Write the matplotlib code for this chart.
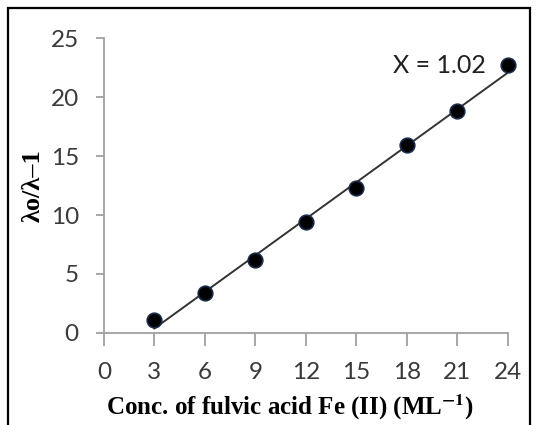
import numpy as np
import matplotlib
matplotlib.use("Agg")
import matplotlib.pyplot as plt
from matplotlib.patches import Rectangle

conc = [3, 6, 9, 12, 15, 18, 21, 24]
ratio = [1.1, 3.4, 6.2, 9.4, 12.3, 15.9, 18.8, 22.7]
xticks = [0, 3, 6, 9, 12, 15, 18, 21, 24]
yticks = [0, 5, 10, 15, 20, 25]

plt.rcParams['mathtext.fontset'] = 'stix'
fig = plt.figure(figsize=(5.38, 4.25), dpi=100)
ax = fig.add_axes([0.193, 0.2165, 0.751, 0.694])

slope, icpt = np.polyfit(conc, ratio, 1)
xf = np.array([conc[0], conc[-1]])
ax.plot(xf, slope * xf + icpt, color='#333333', lw=1.4, zorder=2)
ax.plot(conc, ratio, 'o', ms=10.5, mfc='black', mec='#1a2a4a', mew=1.2, zorder=3, clip_on=False)

ax.set_xlim(0, 24)
ax.set_ylim(0, 25)
ax.set_xticks(xticks)
ax.set_yticks(yticks)
for s in ['top', 'right']:
    ax.spines[s].set_visible(False)
for s in ['left', 'bottom']:
    ax.spines[s].set_color('#a0a0a0')
    ax.spines[s].set_linewidth(1.3)
ax.tick_params(axis='x', direction='out', length=9, width=1.3, color='#a0a0a0',
               labelsize=17.5, labelcolor='#3a3a3a', pad=12)
ax.tick_params(axis='y', direction='out', length=6, width=1.3, color='#a0a0a0',
               labelsize=17.5, labelcolor='#3a3a3a', pad=12)
for lab in ax.get_xticklabels() + ax.get_yticklabels():
    lab.set_fontfamily('Lato')

ax.text(22.7, 22.7, 'X = 1.02', fontsize=18, color='#202020', family='Lato',
        ha='right', va='center')

ax.set_ylabel('λo/λ–1', fontsize=19, fontweight='bold', family='Liberation Serif')
ax.yaxis.set_label_coords(-0.145, 0.5)
ax.set_xlabel(r'Conc. of fulvic acid Fe (II) (ML$^{\mathbf{-1}}$)', fontsize=18,
              fontweight='bold', family='Liberation Serif')
ax.xaxis.set_label_coords(0.46, -0.2)

fig.patches.append(Rectangle((8/538, -0.05), 522/538, 1 - 8/425 + 0.05, transform=fig.transFigure,
                             fill=False, edgecolor='black', lw=1.6))

fig.savefig('out.png', dpi=100)
